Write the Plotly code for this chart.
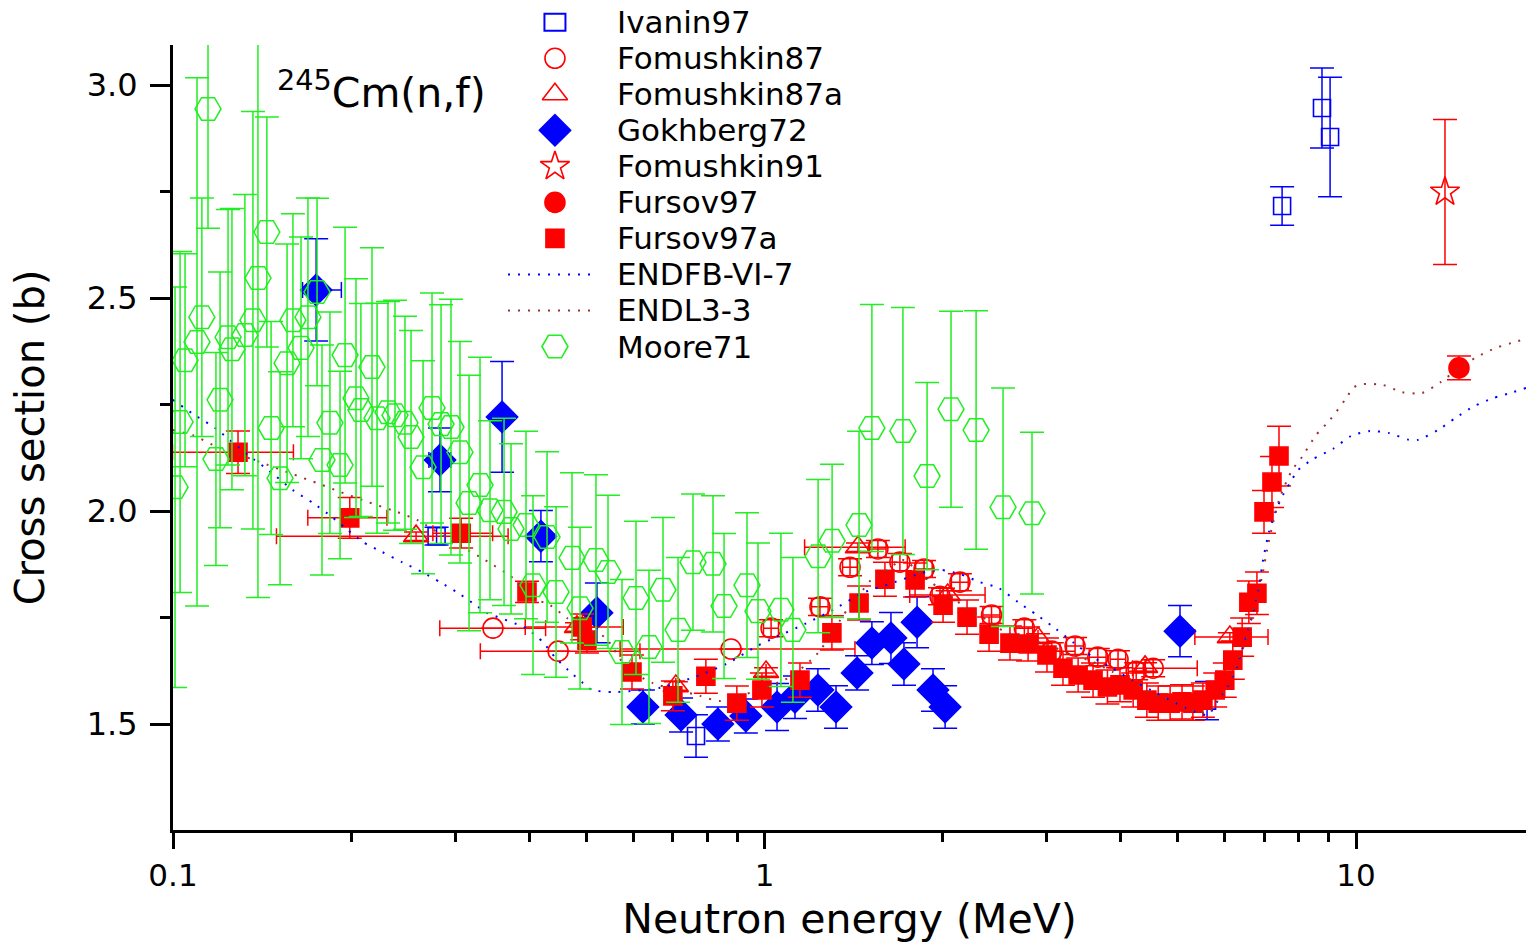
import plotly.graph_objects as go

# ---------------- data: 245Cm(n,f) cross section (barn) vs neutron energy (MeV) ----------------
ivanin_e = [0.279, 0.766, 5.60, 7.50, 8.76, 9.04]
ivanin_s = [1.941, 1.472, 1.555, 2.716, 2.946, 2.878]
ivanin_d = [0.021, 0.05, 0.045, 0.045, 0.094, 0.14]

fom87_e = [0.3475, 0.4478, 0.878, 1.026, 1.241, 1.395, 1.555, 1.694, 1.861, 1.98,
           2.14, 2.42, 2.75, 3.06, 3.35, 3.66, 3.96, 4.25, 4.54]
fom87_s = [1.725, 1.671, 1.676, 1.725, 1.775, 1.868, 1.911, 1.880, 1.864, 1.800,
           1.833, 1.756, 1.725, 1.671, 1.683, 1.657, 1.652, 1.624, 1.631]
fom87_d = [0.0, 0.0, 0.0, 0.02, 0.02, 0.02, 0.02, 0.02, 0.02, 0.02,
           0.02, 0.02, 0.02, 0.02, 0.02, 0.02, 0.02, 0.02, 0.02]
fom87_ep = [0.079, 0.168, 0.544, 0.03, 0.04, 0.04, 0.05, 0.05, 0.06, 0.06,
            0.07, 0.08, 0.09, 0.10, 0.11, 0.12, 0.12, 0.13, 0.85]
fom87_em = [0.065, 0.117, 0.308, 0.03, 0.04, 0.04, 0.05, 0.05, 0.06, 0.06,
            0.07, 0.08, 0.09, 0.10, 0.11, 0.12, 0.12, 0.13, 0.35]

fom87a_e = [0.2576, 0.482, 0.708, 1.006, 1.439, 2.04, 2.90, 4.40, 6.12]
fom87a_s = [1.941, 1.728, 1.589, 1.622, 1.915, 1.803, 1.702, 1.634, 1.704]
fom87a_d = [0.01, 0.01, 0.01, 0.01, 0.01, 0.01, 0.01, 0.01, 0.01]
fom87a_ep = [0.111, 0.095, 0.0, 0.0, 0.29, 0.32, 0.0, 0.0, 0.98]
fom87a_em = [0.108, 0.088, 0.0, 0.0, 0.27, 0.28, 0.0, 0.0, 0.78]

gokh_e = [0.1746, 0.2828, 0.360, 0.4188, 0.5208, 0.623, 0.7227, 0.834, 0.930, 1.05,
          1.126, 1.231, 1.321, 1.434, 1.519, 1.636, 1.721, 1.811, 1.927, 2.02, 5.04]
gokh_s = [2.519, 2.120, 2.221, 1.941, 1.761, 1.540, 1.521, 1.500, 1.519, 1.540,
          1.563, 1.580, 1.540, 1.620, 1.690, 1.702, 1.641, 1.739, 1.580, 1.540, 1.718]
gokh_d = [0.12, 0.075, 0.13, 0.06, 0.07, 0.04, 0.04, 0.04, 0.04, 0.055,
          0.05, 0.05, 0.05, 0.04, 0.05, 0.06, 0.05, 0.06, 0.05, 0.05, 0.06]
gokh_ep = [0.018, 0.012, 0.01, 0.008, 0.01, 0, 0, 0, 0, 0,
           0, 0, 0, 0, 0, 0, 0, 0, 0, 0, 0]
gokh_em = [0.009, 0.012, 0.01, 0.008, 0.01, 0, 0, 0, 0, 0,
           0, 0, 0, 0, 0, 0, 0, 0, 0, 0, 0]

fom91_e = [14.14]
fom91_s = [2.749]
fom91_d = [0.17]

fursov97_e = [14.93]
fursov97_s = [2.336]
fursov97_d = [0.028]

fursov97a_e = [0.1288, 0.199, 0.307, 0.3967, 0.492, 0.501, 0.597, 0.700, 0.796, 0.898,
               0.99, 1.148, 1.30, 1.445, 1.598, 1.797, 2.004, 2.20, 2.397, 2.60,
               2.79, 3.003, 3.196, 3.39, 3.593, 3.80, 3.99, 4.20, 4.43, 4.63,
               4.85, 5.08, 5.30, 5.51, 5.78, 6.00, 6.19, 6.42, 6.59, 6.80,
               6.99, 7.21, 7.41]
fursov97a_s = [2.138, 1.984, 1.948, 1.810, 1.728, 1.697, 1.622, 1.566, 1.612, 1.549,
               1.580, 1.603, 1.714, 1.784, 1.840, 1.838, 1.779, 1.751, 1.711, 1.690,
               1.688, 1.662, 1.631, 1.615, 1.603, 1.587, 1.592, 1.580, 1.556, 1.549,
               1.549, 1.552, 1.549, 1.556, 1.580, 1.603, 1.650, 1.704, 1.786, 1.807,
               1.998, 2.068, 2.129]
fursov97a_d = [0.05, 0.048, 0.035, 0.025, 0.03, 0.03, 0.04, 0.035, 0.04, 0.04,
               0.04, 0.04, 0.04, 0.04, 0.04, 0.04, 0.04, 0.04, 0.04, 0.04,
               0.04, 0.04, 0.04, 0.04, 0.04, 0.04, 0.04, 0.04, 0.04, 0.04,
               0.04, 0.04, 0.04, 0.04, 0.04, 0.04, 0.045, 0.045, 0.05, 0.05,
               0.05, 0.06, 0.07]
fursov97a_ep = [0.031, 0.031, 0.04] + [0.0] * 40
fursov97a_em = [0.029, 0.030, 0.032] + [0.0] * 40

endf_e = [0.1, 0.1089, 0.1178, 0.1339, 0.1441, 0.1595, 0.1724, 0.1857, 0.1976, 0.2095,
          0.2256, 0.2439, 0.2636, 0.2828, 0.3032, 0.3279, 0.3395, 0.3952, 0.4222, 0.4424,
          0.4654, 0.4934, 0.5110, 0.5546, 0.6657, 0.7784, 0.8676, 0.9712, 1.0457, 1.171,
          1.306, 1.467, 1.643, 1.839, 1.981, 2.141, 2.314, 2.491, 2.683, 2.888,
          3.111, 3.337, 3.592, 3.868, 4.181, 4.501, 4.847, 5.241, 5.619, 5.821,
          6.052, 6.293, 6.493, 6.698, 6.855, 6.964, 7.128, 7.324, 7.527, 7.734,
          7.980, 8.458, 9.143, 9.806, 10.56, 11.37, 12.29, 12.73, 13.76, 14.71,
          15.83, 17.05, 18.43, 19.39]
endf_s = [2.261, 2.225, 2.195, 2.131, 2.099, 2.049, 2.019, 1.986, 1.955, 1.927,
          1.904, 1.880, 1.857, 1.833, 1.808, 1.775, 1.761, 1.725, 1.692, 1.657,
          1.627, 1.596, 1.580, 1.575, 1.585, 1.615, 1.643, 1.683, 1.704, 1.735,
          1.768, 1.808, 1.831, 1.854, 1.862, 1.852, 1.833, 1.819, 1.786, 1.756,
          1.723, 1.690, 1.657, 1.631, 1.603, 1.580, 1.556, 1.533, 1.521, 1.552,
          1.585, 1.634, 1.697, 1.761, 1.822, 1.885, 1.951, 2.002, 2.038, 2.066,
          2.096, 2.122, 2.146, 2.176, 2.188, 2.183, 2.167, 2.167, 2.190, 2.218,
          2.246, 2.265, 2.279, 2.289]

endl_e = [0.1, 0.1081, 0.1169, 0.1403, 0.1577, 0.1772, 0.1916, 0.2137, 0.2391, 0.2585,
          0.2998, 0.3370, 0.3757, 0.4061, 0.4340, 0.4636, 0.4972, 0.5375, 0.5854, 0.6478,
          0.7784, 0.8412, 1.104, 1.232, 1.379, 1.467, 1.525, 1.586, 1.714, 1.890,
          2.199, 2.378, 2.550, 2.843, 3.074, 3.324, 3.592, 3.883, 4.181, 4.483,
          4.847, 5.241, 5.619, 5.821, 6.052, 6.293, 6.543, 6.724, 6.935, 7.071,
          7.240, 7.440, 7.796, 8.105, 8.558, 9.039, 9.581, 9.922, 10.28, 11.11,
          11.96, 12.93, 13.92, 14.94, 16.02, 17.25, 18.57, 19.39]
endl_s = [2.190, 2.178, 2.155, 2.115, 2.089, 2.063, 2.045, 2.021, 1.998, 1.979,
          1.925, 1.885, 1.843, 1.796, 1.779, 1.749, 1.721, 1.704, 1.631, 1.596,
          1.566, 1.554, 1.610, 1.667, 1.768, 1.815, 1.843, 1.854, 1.885, 1.838,
          1.772, 1.744, 1.716, 1.697, 1.681, 1.662, 1.646, 1.622, 1.603, 1.573,
          1.556, 1.533, 1.526, 1.552, 1.585, 1.643, 1.704, 1.775, 1.845, 1.908,
          1.972, 2.033, 2.096, 2.127, 2.178, 2.214, 2.261, 2.291, 2.298, 2.296,
          2.279, 2.277, 2.303, 2.336, 2.362, 2.383, 2.397, 2.404]

moore_e = [0.1008, 0.1028, 0.1048, 0.1098, 0.1119, 0.1146, 0.1182, 0.1201, 0.1239, 0.1258,
           0.1323, 0.1365, 0.1392, 0.1441, 0.1465, 0.1517, 0.1559, 0.1595, 0.1646, 0.1691,
           0.1752, 0.1786, 0.1842, 0.1916, 0.1954, 0.2039, 0.2078, 0.2170, 0.2213, 0.2309,
           0.2373, 0.2467, 0.2526, 0.2647, 0.2741, 0.2839, 0.2951, 0.3056, 0.3166, 0.3304,
           0.3435, 0.3628, 0.3728, 0.3952, 0.4061, 0.4289, 0.4442, 0.4727, 0.4877, 0.5189,
           0.5438, 0.5742, 0.6064, 0.6378, 0.6736, 0.7142, 0.7570, 0.8184, 0.8543, 0.9341,
           0.9750, 1.066, 1.117, 1.232, 1.301, 1.445, 1.519, 1.714, 1.883, 2.067,
           2.279, 2.531, 2.833]
moore_s = [2.056, 2.209, 2.354, 2.397, 2.455, 2.944, 2.122, 2.261, 2.408, 2.380,
           2.413, 2.448, 2.547, 2.655, 2.195, 2.077, 2.347, 2.448, 2.383, 2.455,
           2.514, 2.120, 2.207, 2.108, 2.366, 2.265, 2.237, 2.338, 2.218, 2.232,
           2.225, 2.207, 2.174, 2.103, 2.242, 2.204, 2.197, 2.138, 2.019, 2.061,
           2.002, 1.998, 1.958, 1.967, 1.826, 1.939, 1.810, 1.890, 1.772, 1.885,
           1.857, 1.669, 1.796, 1.681, 1.815, 1.721, 1.880, 1.876, 1.777, 1.826,
           1.765, 1.768, 1.721, 1.894, 1.930, 1.967, 2.195, 2.188, 2.082, 2.239,
           2.190, 2.009, 1.995]
moore_d = [0.47, 0.40, 0.25, 0.62, 0.28, 0.28, 0.25, 0.30, 0.30, 0.33,
           0.33, 0.49, 0.75, 0.27, 0.25, 0.25, 0.28, 0.25, 0.26, 0.28,
           0.22, 0.27, 0.26, 0.22, 0.30, 0.28, 0.25, 0.28, 0.27, 0.26,
           0.27, 0.25, 0.25, 0.25, 0.27, 0.28, 0.30, 0.26, 0.30, 0.30,
           0.21, 0.22, 0.20, 0.22, 0.21, 0.20, 0.20, 0.20, 0.19, 0.20,
           0.18, 0.17, 0.18, 0.18, 0.17, 0.17, 0.16, 0.16, 0.17, 0.17,
           0.16, 0.18, 0.17, 0.18, 0.18, 0.22, 0.29, 0.29, 0.22, 0.23,
           0.28, 0.28, 0.19]

# ---------------- styling ----------------
BLUE = "#0000ff"
RED = "#ff0000"
GREEN = "#22ee22"
BROWN = "#993333"
FONT = "DejaVu Sans"

fig = go.Figure()


def add_points(name, e, s, ds, color, symbol, size, ep=None, em=None, lw=1.6):
    err_x = None
    if ep is not None:
        err_x = dict(type="data", symmetric=False, array=ep, arrayminus=em,
                     color=color, thickness=1.5, width=8)
    fig.add_trace(go.Scatter(
        x=e, y=s, mode="markers", name=name, showlegend=False,
        marker=dict(symbol=symbol, size=size, color=color,
                    line=dict(color=color, width=lw)),
        error_y=dict(type="data", array=ds, color=color, thickness=1.5, width=12),
        error_x=err_x,
    ))


add_points("Ivanin97", ivanin_e, ivanin_s, ivanin_d, BLUE, "square-open", 17)
add_points("Fomushkin87", fom87_e, fom87_s, fom87_d, RED, "circle-open", 20, fom87_ep, fom87_em)
add_points("Fomushkin87a", fom87a_e, fom87a_s, fom87a_d, RED, "triangle-up-open", 22, fom87a_ep, fom87a_em)
add_points("Gokhberg72", gokh_e, gokh_s, gokh_d, BLUE, "diamond", 24, gokh_ep, gokh_em)
add_points("Fomushkin91", fom91_e, fom91_s, fom91_d, RED, "star-open", 22)
add_points("Fursov97", fursov97_e, fursov97_s, fursov97_d, RED, "circle", 20)
add_points("Fursov97a", fursov97a_e, fursov97a_s, fursov97a_d, RED, "square", 18, fursov97a_ep, fursov97a_em)

fig.add_trace(go.Scatter(x=endf_e, y=endf_s, mode="lines", name="ENDFB-VI-7", showlegend=False,
                         line=dict(color=BLUE, width=2, dash="2px,8px", shape="spline", smoothing=0.6)))
fig.add_trace(go.Scatter(x=endl_e, y=endl_s, mode="lines", name="ENDL3-3", showlegend=False,
                         line=dict(color=BROWN, width=2, dash="2px,8px", shape="spline", smoothing=0.6)))

add_points("Moore71", moore_e, moore_s, moore_d, GREEN, "hexagon2-open", 26, lw=1.5)

# ---------------- key (symbols on an overlay axis spanning the plot area) ----------------
key_names = ["Ivanin97", "Fomushkin87", "Fomushkin87a", "Gokhberg72", "Fomushkin91",
             "Fursov97", "Fursov97a", "ENDFB-VI-7", "ENDL3-3", "Moore71"]
key_style = [("box", BLUE, None, 21), ("m", RED, "circle-open", 20),
             ("m", RED, "triangle-up-open", 22), ("m", BLUE, "diamond", 24),
             ("m", RED, "star-open", 22), ("m", RED, "circle", 20),
             ("m", RED, "square", 18), ("l", BLUE, None, 0), ("l", BROWN, None, 0),
             ("m", GREEN, "hexagon2-open", 26)]
KEY_TOP, KEY_STEP = 1.029, 0.0459
KEY_X, KEY_L0, KEY_L1, KEY_TX = 0.2823, 0.2476, 0.3141, 0.3267

for i, (name, (kind, color, symbol, size)) in enumerate(zip(key_names, key_style)):
    ky = KEY_TOP - i * KEY_STEP
    if kind == "m":
        fig.add_trace(go.Scatter(x=[KEY_X], y=[ky], xaxis="x2", yaxis="y2", mode="markers",
                                 showlegend=False, cliponaxis=False, hoverinfo="skip",
                                 marker=dict(symbol=symbol, size=size, color=color,
                                             line=dict(color=color, width=1.6))))
    elif kind == "box":
        # open square key sits above the plot area, so it is drawn as a pixel-sized shape
        half = size / 2
        fig.add_shape(type="rect", xref="paper", yref="paper",
                      xsizemode="pixel", ysizemode="pixel", xanchor=KEY_X, yanchor=ky,
                      x0=-half, x1=half, y0=-half * 0.8, y1=half * 0.8,
                      line=dict(color=color, width=2), fillcolor="rgba(0,0,0,0)")
    else:
        fig.add_trace(go.Scatter(x=[KEY_L0, KEY_L1], y=[ky, ky], xaxis="x2", yaxis="y2",
                                 mode="lines", showlegend=False, cliponaxis=False,
                                 hoverinfo="skip",
                                 line=dict(color=color, width=2, dash="2px,8px")))
    fig.add_annotation(x=KEY_TX, y=ky, xref="paper", yref="paper", text=name,
                       showarrow=False, xanchor="left", yanchor="middle",
                       font=dict(family=FONT, size=31, color="black"))

fig.add_annotation(x=0.0754, y=0.943, xref="paper", yref="paper",
                   text="<sup>245</sup>Cm(n,f)", showarrow=False,
                   xanchor="left", yanchor="middle",
                   font=dict(family=FONT, size=41, color="black"))

fig.update_layout(
    width=1526, height=943,
    margin=dict(l=173, r=0, t=45, b=113),
    paper_bgcolor="white", plot_bgcolor="white",
    font=dict(family=FONT, color="black"),
    xaxis=dict(type="log", range=[-1, 1.2874],
               tickmode="array", tickvals=[0.1, 1, 10], ticktext=["0.1", "1", "10"],
               ticks="outside", ticklen=16, tickwidth=3, tickcolor="black",
               showline=True, linewidth=3, linecolor="black", showgrid=False, zeroline=False,
               tickfont=dict(family=FONT, size=31),
               minor=dict(tickmode="array",
                          tickvals=[0.2, 0.3, 0.4, 0.5, 0.6, 0.7, 0.8, 0.9,
                                    2, 3, 4, 5, 6, 7, 8, 9],
                          ticks="outside", ticklen=9, tickwidth=2.5, tickcolor="black",
                          showgrid=False),
               title=dict(text="Neutron energy (MeV)", font=dict(family=FONT, size=41),
                          standoff=20)),
    yaxis=dict(range=[1.2512, 3.094],
               tickmode="array", tickvals=[1.5, 2.0, 2.5, 3.0],
               ticktext=["1.5", "2.0", "2.5", "3.0"],
               ticks="outside", ticklen=20, tickwidth=3, tickcolor="black",
               showline=True, linewidth=3, linecolor="black", showgrid=False, zeroline=False,
               tickfont=dict(family=FONT, size=32), ticklabelstandoff=6,
               minor=dict(tickmode="array", tickvals=[1.75, 2.25, 2.75],
                          ticks="outside", ticklen=10, tickwidth=3, tickcolor="black",
                          showgrid=False),
               title=dict(text="Cross section (b)", font=dict(family=FONT, size=40),
                          standoff=30)),
    xaxis2=dict(overlaying="x", range=[0, 1], visible=False, anchor="y2"),
    yaxis2=dict(overlaying="y", range=[0, 1], visible=False, anchor="x2"),
    showlegend=False,
)

fig.write_html("out.html")
